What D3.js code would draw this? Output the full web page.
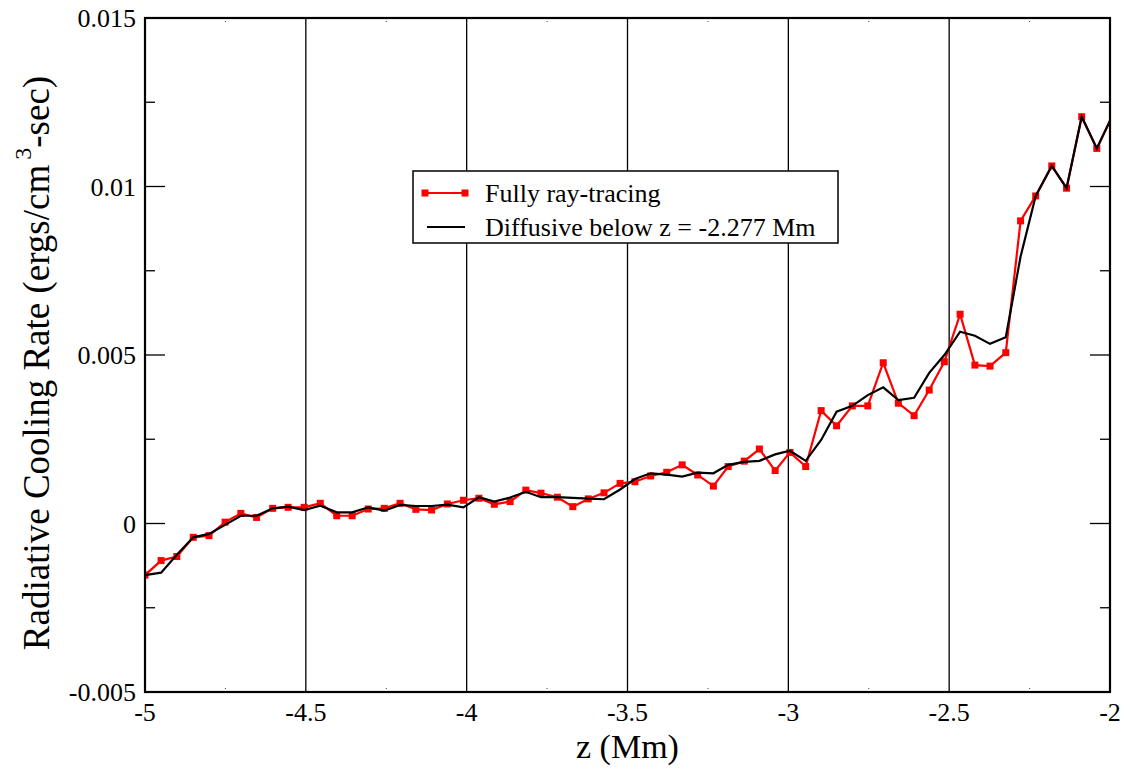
<!DOCTYPE html>
<html>
<head>
<meta charset="utf-8">
<script src="https://cdn.jsdelivr.net/npm/d3@7"></script>
<style>
  body { margin: 0; background: #fff; }
  text { font-family: "Liberation Serif", "Times New Roman", serif; fill: #000; }
</style>
</head>
<body>
<div id="chart"></div>
<script>
// z positions (Mm) of the grid points
var zValues = [
  -5.000, -4.950, -4.901, -4.850, -4.801, -4.751, -4.702, -4.653, -4.603, -4.555,
  -4.505, -4.455, -4.404, -4.356, -4.306, -4.256, -4.207, -4.158, -4.109, -4.060,
  -4.010, -3.962, -3.914, -3.865, -3.816, -3.769, -3.718, -3.670, -3.622, -3.573,
  -3.523, -3.477, -3.428, -3.378, -3.330, -3.282, -3.233, -3.187, -3.137, -3.090,
  -3.041, -2.995, -2.946, -2.898, -2.850, -2.801, -2.753, -2.705, -2.658, -2.609,
  -2.562, -2.515, -2.466, -2.420, -2.373, -2.324, -2.278, -2.231, -2.181, -2.135,
  -2.088, -2.041, -1.990
];

// Fully ray-tracing (red, squares)
var rayTracing = [
  -0.00153, -0.00110, -0.00098, -0.00041, -0.00036, 0.00004, 0.00030, 0.00018, 0.00045, 0.00048,
  0.00048, 0.00060, 0.00023, 0.00023, 0.00043, 0.00045, 0.00060, 0.00042, 0.00040, 0.00058,
  0.00069, 0.00075, 0.00057, 0.00065, 0.00099, 0.00090, 0.00078, 0.00050, 0.00073, 0.00091,
  0.00119, 0.00124, 0.00141, 0.00152, 0.00174, 0.00144, 0.00111, 0.00169, 0.00185, 0.00221,
  0.00157, 0.00211, 0.00169, 0.00335, 0.00290, 0.00349, 0.00349, 0.00477, 0.00357, 0.00320,
  0.00396, 0.00480, 0.00621, 0.00470, 0.00467, 0.00507, 0.00898, 0.00972, 0.01061, 0.00995,
  0.01207, 0.01113, 0.01215
];

// Diffusive below z = -2.277 Mm (black line)
var diffusive = [
  -0.00153, -0.00146, -0.00093, -0.00041, -0.00031, -0.00004, 0.00023, 0.00023, 0.00045, 0.00050,
  0.00040, 0.00053, 0.00033, 0.00033, 0.00048, 0.00038, 0.00055, 0.00052, 0.00052, 0.00056,
  0.00048, 0.00078, 0.00065, 0.00077, 0.00094, 0.00078, 0.00078, 0.00076, 0.00074, 0.00072,
  0.00101, 0.00132, 0.00149, 0.00145, 0.00139, 0.00151, 0.00149, 0.00174, 0.00183, 0.00186,
  0.00205, 0.00216, 0.00186, 0.00248, 0.00332, 0.00349, 0.00381, 0.00404, 0.00366, 0.00373,
  0.00447, 0.00500, 0.00569, 0.00557, 0.00533, 0.00553, 0.00792, 0.00972, 0.01061, 0.00995,
  0.01207, 0.01113, 0.01215
];

var xTicks = [-5, -4.5, -4, -3.5, -3, -2.5, -2];
var xMinorTicks = [-4.75, -4.25, -3.75, -3.25, -2.75, -2.25];
var yTicks = [-0.005, 0, 0.005, 0.01, 0.015];
var yMinorTicks = [-0.0025, 0.0025, 0.0075, 0.0125];
var xTickLabels = ["-5", "-4.5", "-4", "-3.5", "-3", "-2.5", "-2"];
var yTickLabels = ["-0.005", "0", "0.005", "0.01", "0.015"];

var seriesNames = ["Fully ray-tracing", "Diffusive below z = -2.277 Mm"];

((() => {
  var width = 1128,
      height = 768,
      margin = {top: 18, right: 18, bottom: 76, left: 145};

  var innerW = width - margin.left - margin.right,
      innerH = height - margin.top - margin.bottom;

  var serif = '"Liberation Serif", "Times New Roman", serif';

  var svg = d3.select("#chart")
    .append("svg")
    .attr("width", width)
    .attr("height", height);

  var g = svg.append("g")
    .attr("transform", "translate(" + margin.left + "," + margin.top + ")");

  var x = d3.scaleLinear().domain([-5, -2]).range([0, innerW]);
  var y = d3.scaleLinear().domain([-0.005, 0.015]).range([innerH, 0]);

  var red = zValues.map(function(z, i) { return {z: z, v: rayTracing[i]}; });
  var black = zValues.map(function(z, i) { return {z: z, v: diffusive[i]}; });

  g.append("clipPath").attr("id", "clip")
    .append("rect").attr("width", innerW).attr("height", innerH);

  // vertical grid lines at the major z ticks
  g.selectAll(".grid")
    .data(xTicks.slice(1, -1))
    .enter()
    .append("line")
    .attr("x1", d => x(d)).attr("x2", d => x(d))
    .attr("y1", 0).attr("y2", innerH)
    .attr("stroke", "#000")
    .attr("stroke-width", 1.3);

  // minor ticks on top / bottom, dotted and faint
  g.selectAll(".xminor")
    .data(xMinorTicks.flatMap(d => [{v: d, top: true}, {v: d, top: false}]))
    .enter()
    .append("line")
    .attr("x1", d => x(d.v)).attr("x2", d => x(d.v))
    .attr("y1", d => d.top ? 0 : innerH)
    .attr("y2", d => d.top ? 6 : innerH - 6)
    .attr("stroke", "#444")
    .attr("stroke-width", 1)
    .attr("stroke-dasharray", "1,2");

  // y ticks on left and right, pointing inward
  var yt = [];
  yTicks.forEach(d => { yt.push({v: d, len: 20, side: 0}); yt.push({v: d, len: 20, side: 1}); });
  yMinorTicks.forEach(d => { yt.push({v: d, len: 10, side: 0}); yt.push({v: d, len: 10, side: 1}); });
  g.selectAll(".ytick")
    .data(yt)
    .enter()
    .append("line")
    .attr("x1", d => d.side ? innerW : 0)
    .attr("x2", d => d.side ? innerW - d.len : d.len)
    .attr("y1", d => y(d.v)).attr("y2", d => y(d.v))
    .attr("stroke", "#000")
    .attr("stroke-width", 1.3);

  var plot = g.append("g").attr("clip-path", "url(#clip)");

  var line = d3.line()
    .x(d => x(d.z))
    .y(d => y(d.v));

  plot.append("path")
    .datum(red)
    .attr("d", line)
    .attr("fill", "none")
    .attr("stroke", "#ff0000")
    .attr("stroke-width", 2.2);

  plot.selectAll(".sq")
    .data(red)
    .enter()
    .append("rect")
    .attr("x", d => x(d.z) - 3.5)
    .attr("y", d => y(d.v) - 3.5)
    .attr("width", 7)
    .attr("height", 7)
    .attr("fill", "#ff0000");

  plot.append("path")
    .datum(black)
    .attr("d", line)
    .attr("fill", "none")
    .attr("stroke", "#000")
    .attr("stroke-width", 2.2);

  // frame
  g.append("rect")
    .attr("width", innerW)
    .attr("height", innerH)
    .attr("fill", "none")
    .attr("stroke", "#000")
    .attr("stroke-width", 2.2);

  // tick labels
  g.selectAll(".xlab")
    .data(xTicks)
    .enter()
    .append("text")
    .attr("x", d => x(d))
    .attr("y", innerH + 29)
    .attr("text-anchor", "middle")
    .attr("font-family", serif)
    .attr("font-size", 26)
    .text((d, i) => xTickLabels[i]);

  g.selectAll(".ylab")
    .data(yTicks)
    .enter()
    .append("text")
    .attr("x", -9)
    .attr("y", d => y(d))
    .attr("dy", "0.35em")
    .attr("text-anchor", "end")
    .attr("font-family", serif)
    .attr("font-size", 26)
    .text((d, i) => yTickLabels[i]);

  // axis titles
  svg.append("text")
    .attr("x", margin.left + innerW / 2)
    .attr("y", 758)
    .attr("text-anchor", "middle")
    .attr("font-family", serif)
    .attr("font-size", 34)
    .text("z (Mm)");

  var yTitle = svg.append("text")
    .attr("transform", "translate(49,363) rotate(-90)")
    .attr("text-anchor", "middle")
    .attr("font-family", serif)
    .attr("font-size", 37);
  yTitle.append("tspan").text("Radiative Cooling Rate (ergs/cm");
  yTitle.append("tspan").attr("font-size", 24).attr("dy", -18).attr("dx", 5).text("3");
  yTitle.append("tspan").attr("dy", 18).text("-sec)");

  // legend
  var leg = svg.append("g").attr("transform", "translate(413,171)");
  leg.append("rect")
    .attr("width", 425)
    .attr("height", 72)
    .attr("fill", "#fff")
    .attr("stroke", "#000")
    .attr("stroke-width", 1.5);

  leg.append("line")
    .attr("x1", 12).attr("x2", 52).attr("y1", 22).attr("y2", 22)
    .attr("stroke", "#ff0000").attr("stroke-width", 2.2);
  leg.selectAll(".lsq")
    .data([12, 52])
    .enter()
    .append("rect")
    .attr("x", d => d - 3.5).attr("y", 18.5)
    .attr("width", 7).attr("height", 7)
    .attr("fill", "#ff0000");
  leg.append("line")
    .attr("x1", 14).attr("x2", 52).attr("y1", 56).attr("y2", 56)
    .attr("stroke", "#000").attr("stroke-width", 2.2);

  leg.selectAll(".ltxt")
    .data(seriesNames)
    .enter()
    .append("text")
    .attr("x", 72)
    .attr("y", (d, i) => 31 + i * 34)
    .attr("font-family", serif)
    .attr("font-size", 26)
    .text(d => d);
})());
</script>
</body>
</html>
